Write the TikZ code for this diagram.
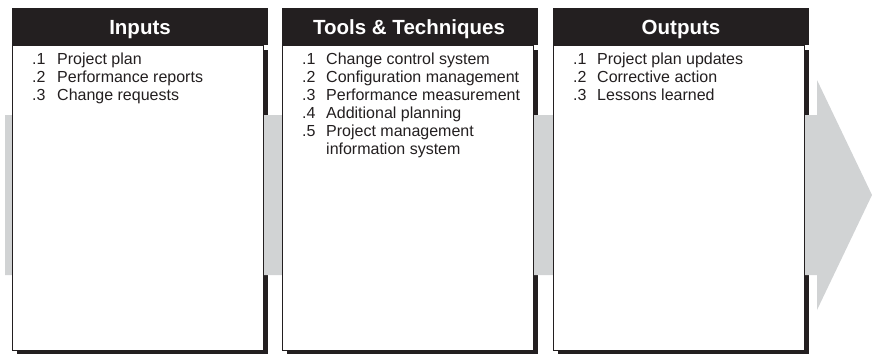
\documentclass[tikz,border=0pt]{standalone}
\usepackage{fontspec}
\setmainfont{Liberation Sans}
\definecolor{ink}{RGB}{35,31,32}
\definecolor{band}{RGB}{209,211,212}
\begin{document}
\begin{tikzpicture}[x=1pt,y=-1pt,
  hdr/.style={anchor=base,text=white,font=\fontsize{20.5}{24}\selectfont\bfseries,inner sep=0pt},
  num/.style={anchor=base west,text=ink,font=\fontsize{16}{18}\selectfont,inner sep=0pt},
  itm/.style={anchor=base west,text=ink,font=\fontsize{16}{18}\selectfont,inner sep=0pt},
  shadowbox/.style={fill=ink},
  bodybox/.style={fill=white,draw=ink,line width=1pt}]
\useasboundingbox (0,0) rectangle (872,354);
% shadows and headers
\foreach \L in {12,282,553}{
  \fill[shadowbox] (\L+5,50) rectangle (\L+256,354);
  \fill[shadowbox] (\L,8) rectangle (\L+256,45);
}
% big gray arrow
\fill[band] (5,115) -- (817,115) -- (817,80) -- (872,195) -- (817,310) -- (817,275) -- (5,275) -- cycle;
% white bodies
\foreach \L in {12,282,553}{
  \filldraw[bodybox] (\L,45) rectangle (\L+251,350);
}
% headers
\node[hdr] (h1) at (140,34) {Inputs};
\node[hdr] (h2) at (409,34) {Tools \& Techniques};
\node[hdr] (h3) at (681,34) {Outputs};
% inputs
\node[num] (a1n) at (32,64) {.1}; \node[itm] (a1) at (57,64) {Project plan};
\node[num] (a2n) at (32,82) {.2}; \node[itm] (a2) at (57,82) {Performance reports};
\node[num] (a3n) at (32,100) {.3}; \node[itm] (a3) at (57,100) {Change requests};
% tools
\node[num] (b1n) at (302,64) {.1}; \node[itm] (b1) at (326,64) {Change control system};
\node[num] (b2n) at (302,82) {.2}; \node[itm] (b2) at (326,82) {Configuration management};
\node[num] (b3n) at (302,100) {.3}; \node[itm] (b3) at (326,100) {Performance measurement};
\node[num] (b4n) at (302,118) {.4}; \node[itm] (b4) at (326,118) {Additional planning};
\node[num] (b5n) at (302,136) {.5}; \node[itm] (b5) at (326,136) {Project management};
\node[itm] (b6) at (326,154) {information system};
% outputs
\node[num] (c1n) at (573,64) {.1}; \node[itm] (c1) at (597,64) {Project plan updates};
\node[num] (c2n) at (573,82) {.2}; \node[itm] (c2) at (597,82) {Corrective action};
\node[num] (c3n) at (573,100) {.3}; \node[itm] (c3) at (597,100) {Lessons learned};
\end{tikzpicture}
\end{document}
